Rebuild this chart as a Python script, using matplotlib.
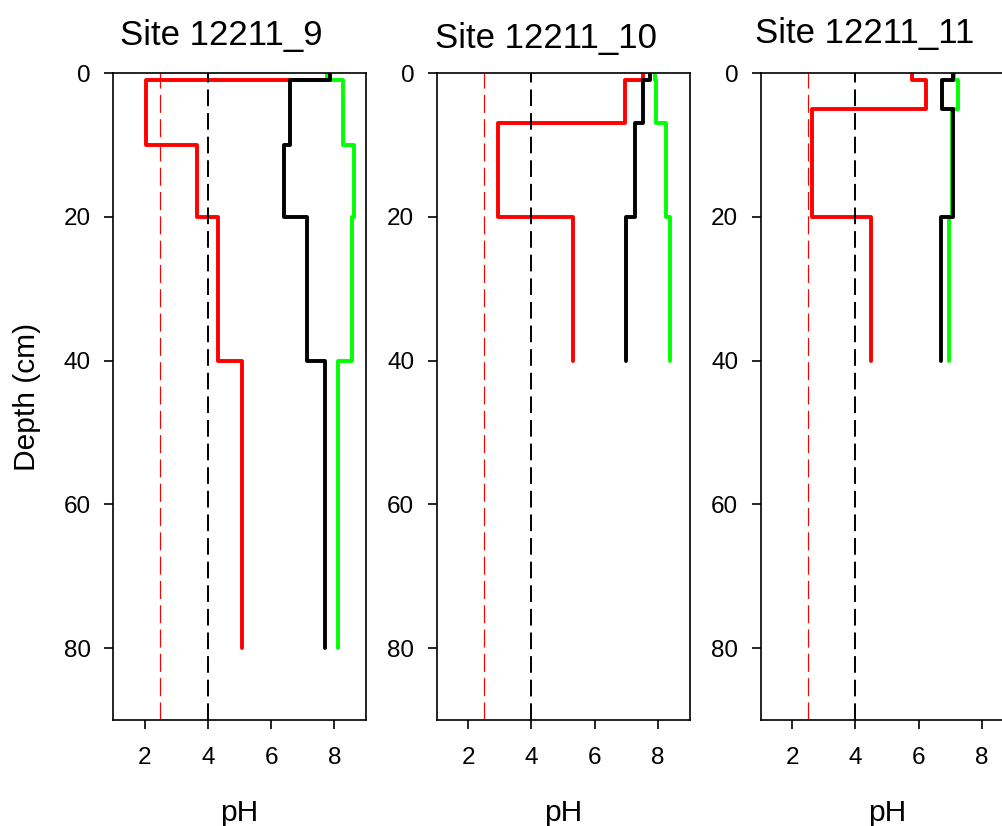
# pH depth profiles for three soil sites, drawn as step curves
import numpy as np
import matplotlib
matplotlib.use('Agg')
import matplotlib.pyplot as plt

plt.rcParams['font.family'] = ['Liberation Sans', 'DejaVu Sans']
plt.rcParams['lines.scale_dashes'] = False

sites = ['Site 12211_9', 'Site 12211_10', 'Site 12211_11']

# layer boundaries (cm) for each site
depths = [
    [0, 1, 10, 20, 40, 80],
    [0, 1, 7, 20, 40],
    [0, 1, 5, 20, 40],
]

# pH of each layer, three measurements per site
ph_red = [
    [7.80, 2.04, 3.65, 4.31, 5.07],
    [7.52, 6.96, 2.94, 5.33],
    [5.78, 6.22, 2.62, 4.49],
]
ph_green = [
    [7.76, 8.28, 8.62, 8.57, 8.12],
    [7.91, 7.94, 8.25, 8.38],
    [7.12, 7.25, 7.05, 6.97],
]
ph_black = [
    [7.86, 6.60, 6.41, 7.14, 7.70],
    [7.75, 7.54, 7.28, 6.99],
    [7.10, 6.73, 7.10, 6.70],
]

# reference thresholds
ref_red = 2.5
ref_black = 4.0

W, H = 1002, 826
fig = plt.figure(figsize=(W / 100, H / 100), dpi=100)

lefts = [113, 436.5, 760.5]
title_x = [221.4, 545.7, 864.5]
title_base = [45, 48, 43]

for i in range(3):
    ax = fig.add_axes([lefts[i] / W, 1 - 720 / H, 253 / W, 647 / H])
    ax.set_xlim(1, 9)
    ax.set_ylim(90, 0)

    ax.axvline(ref_red, color='red', lw=0.85, dashes=(13, 4.5))
    ax.axvline(ref_black, color='black', lw=1.4, dashes=(12, 5))

    for vals, col in [(ph_red[i], '#ff0000'), (ph_green[i], '#00ff00'),
                      (ph_black[i], 'black')]:
        st = ax.stairs(vals, depths[i], orientation='horizontal',
                       baseline=None, color=col, lw=2.8)
        st.set_joinstyle('round')
        st.set_capstyle('round')

    for sp in ax.spines.values():
        sp.set_linewidth(1.2)
    ax.set_xticks([2, 4, 6, 8])
    ax.set_yticks([0, 20, 40, 60, 80])
    ax.tick_params(axis='both', length=6.5, width=1.2, labelsize=17.5)
    ax.tick_params(axis='x', pad=13)
    ax.tick_params(axis='y', pad=9.5)

    fig.text(title_x[i] / W, 1 - title_base[i] / H, sites[i],
             fontsize=25, ha='center', va='baseline')
    fig.text((lefts[i] + 126.5) / W, 1 - 821 / H, 'pH',
             fontsize=21.5, ha='center', va='baseline')

fig.text(27 / W, 1 - 397 / H, 'Depth (cm)', fontsize=21.5,
         rotation=90, ha='center', va='center')

fig.savefig('out.png', dpi=100)
